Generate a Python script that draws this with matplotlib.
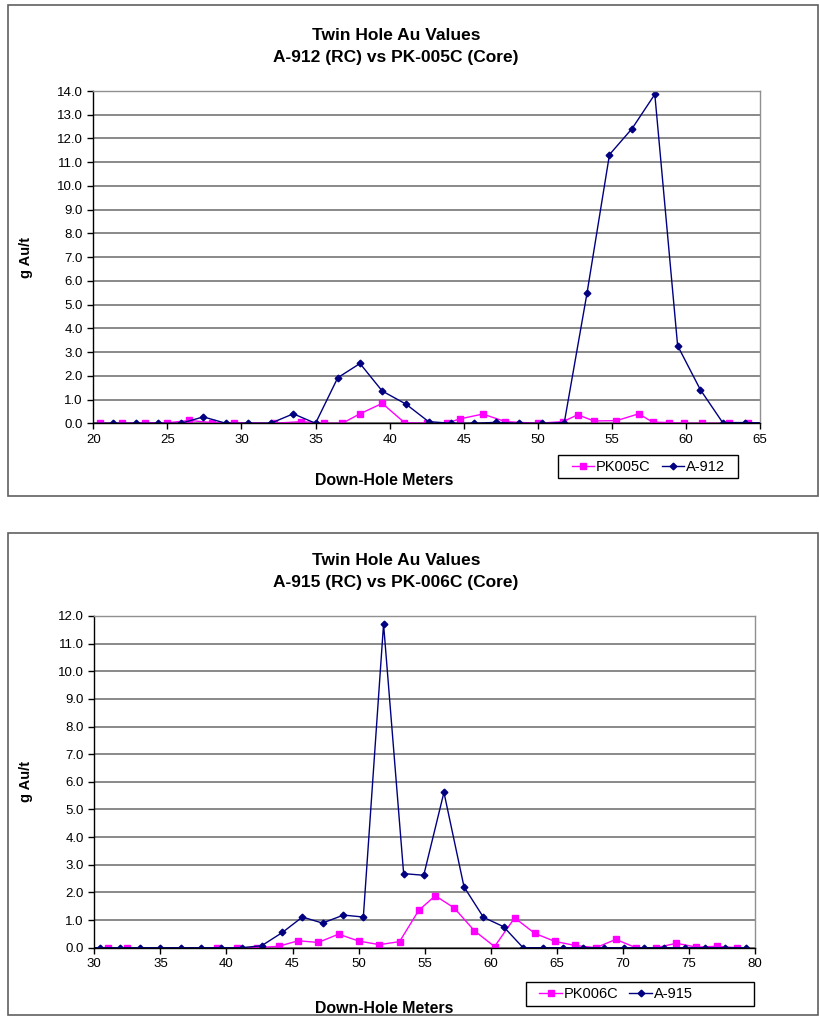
import matplotlib
matplotlib.use("Agg")
import matplotlib.pyplot as plt
from matplotlib.patches import Rectangle

plt.rcParams['font.family'] = ['Liberation Sans', 'DejaVu Sans']

# ---- data (depth in m, grade in g Au/t) ----
# chart 1: A-912 (RC) vs PK-005C (Core)
a912_depth = [19.81, 21.34, 22.87, 24.39, 25.9, 27.43, 28.95, 30.45, 31.97, 33.5, 35.0,
              36.5, 38.0, 39.5, 41.1, 42.63, 44.17, 45.68, 47.19, 48.72, 50.26, 51.79,
              53.32, 54.84, 56.37, 57.9, 59.44, 60.97, 62.48, 64.0, 65.53]
a912_au = [0.0, 0.0, 0.0, 0.0, 0.0, 0.27, 0.0, 0.0, 0.0, 0.4, 0.0,
           1.92, 2.52, 1.36, 0.81, 0.07, 0.0, 0.0, 0.04, 0.0, 0.0, 0.03,
           5.47, 11.32, 12.42, 13.86, 3.27, 1.42, 0.03, 0.03, 0.02]
pk005c_depth = [20.45, 21.97, 23.49, 24.97, 26.49, 28.01, 29.53, 32.17, 34.05, 35.6, 36.8,
                38.0, 39.5, 41.0, 42.55, 43.9, 44.78, 46.29, 47.82, 49.99, 51.7, 52.7,
                53.78, 55.3, 56.82, 57.75, 58.83, 59.89, 61.08, 62.93, 64.2]
pk005c_au = [0.0, 0.0, 0.02, 0.02, 0.12, 0.03, 0.02, 0.0, 0.07, 0.0, 0.0,
             0.4, 0.84, 0.03, 0.0, 0.02, 0.19, 0.39, 0.07, 0.0, 0.07, 0.36,
             0.1, 0.11, 0.4, 0.05, 0.03, 0.0, 0.0, 0.0, 0.0]

# chart 2: A-915 (RC) vs PK-006C (Core)
a915_depth = [28.9, 30.43, 31.95, 33.46, 34.98, 36.55, 38.06, 39.6, 41.14, 42.66, 44.23,
              45.75, 47.27, 48.85, 50.36, 51.89, 53.41, 54.93, 56.46, 57.98, 59.45, 60.97,
              62.45, 63.97, 65.45, 67.0, 68.54, 70.06, 71.6, 73.12, 74.69, 76.2, 77.72, 79.29]
a915_au = [0.0, 0.0, 0.0, 0.0, 0.0, 0.0, 0.0, 0.0, 0.0, 0.07, 0.55,
           1.11, 0.89, 1.18, 1.11, 11.71, 2.68, 2.62, 5.62, 2.2, 1.1, 0.76,
           0.0, 0.0, 0.0, 0.0, 0.0, 0.0, 0.0, 0.0, 0.0, 0.0, 0.0, 0.0]
pk006c_depth = [29.5, 31.0, 32.5, 39.27, 40.79, 42.3, 43.94, 45.43, 46.94, 48.49, 50.01,
                51.58, 53.1, 54.55, 55.8, 57.23, 58.77, 60.29, 61.81, 63.33, 64.84, 66.39,
                67.96, 69.47, 70.99, 72.54, 74.05, 75.57, 77.11, 78.63]
pk006c_au = [0.0, 0.0, 0.0, 0.0, 0.0, 0.0, 0.05, 0.25, 0.19, 0.49, 0.24,
             0.11, 0.22, 1.35, 1.88, 1.44, 0.61, 0.04, 1.08, 0.52, 0.23, 0.08,
             0.0, 0.3, 0.0, 0.0, 0.16, 0.02, 0.05, 0.0]

W, H = 820, 1019
fig = plt.figure(figsize=(W / 100, H / 100), dpi=100)


def fx(x):
    return x / W


def fy(y):
    return 1 - y / H


def box(left, top, right, bottom, color='#606060', lw=1.2):
    fig.patches.append(Rectangle((fx(left), fy(bottom)), (right - left) / W,
                                 (bottom - top) / H, transform=fig.transFigure,
                                 fill=False, edgecolor=color, lw=lw))


def draw_chart(outer, ax_box, core_x, core_y, core_name, rc_x, rc_y, rc_name,
               xlim, ymax, title2, title_y, xlabel_y, leg_box, leg_start):
    box(*outer)
    left, top, right, bottom = ax_box
    ax = fig.add_axes([fx(left), fy(bottom), (right - left) / W, (bottom - top) / H])
    ax.plot(core_x, core_y, color='#FF00FF', lw=1, marker='s', ms=3.8, label=core_name)
    ax.plot(rc_x, rc_y, color='#000080', lw=1, marker='D', ms=3.4, label=rc_name)
    ax.set_xlim(*xlim)
    ax.set_ylim(0, ymax)
    ax.set_xticks(range(xlim[0], xlim[1] + 1, 5))
    ax.set_yticks(range(0, ymax + 1))
    ax.set_yticklabels([f'{v:.1f}' for v in range(0, ymax + 1)])
    ax.grid(axis='y', color='#6a6a6a', lw=1.1)
    ax.set_axisbelow(True)
    ax.tick_params(labelsize=9.5, length=4.5, width=1, pad=3.2, direction='out')
    for s in ['left', 'bottom']:
        ax.spines[s].set_color('black')
        ax.spines[s].set_linewidth(1)
    for s in ['top', 'right']:
        ax.spines[s].set_color('#909090')
        ax.spines[s].set_linewidth(1)

    fig.text(fx(26), fy((top + bottom) / 2), 'g Au/t', rotation=90, ha='center',
             va='center', fontsize=10.5, fontweight='bold')
    fig.text(fx(396), fy(title_y), 'Twin Hole Au Values', ha='center', va='baseline',
             fontsize=12.5, fontweight='bold')
    fig.text(fx(396), fy(title_y + 21.7), title2, ha='center', va='baseline',
             fontsize=12.5, fontweight='bold')
    fig.text(fx(384), fy(xlabel_y), 'Down-Hole Meters', ha='center', va='baseline',
             fontsize=11.4, fontweight='bold')

    # legend: content placed inside a hand-drawn frame (Excel keeps extra room)
    lx0, ly0, lx1, ly1 = leg_box
    ax.legend(loc='center left', bbox_to_anchor=(fx(leg_start), fy((ly0 + ly1) / 2)),
              bbox_transform=fig.transFigure, ncol=2, fontsize=10.5, frameon=False,
              handlelength=1.55, handletextpad=0.12, columnspacing=0.75,
              borderpad=0, borderaxespad=0)
    box(lx0, ly0, lx1, ly1, color='black', lw=1)
    return ax


draw_chart((8, 5, 818, 496), (93.3, 91, 760, 423.3),
           pk005c_depth, pk005c_au, 'PK005C', a912_depth, a912_au, 'A-912',
           (20, 65), 14, 'A-912 (RC) vs PK-005C (Core)', 40, 485,
           (557.7, 455, 737.7, 478.3), 571.7)
draw_chart((8, 533, 818, 1015), (94.3, 616, 755, 947.7),
           pk006c_depth, pk006c_au, 'PK006C', a915_depth, a915_au, 'A-915',
           (30, 80), 12, 'A-915 (RC) vs PK-006C (Core)', 565, 1012.7,
           (525.7, 981.7, 754.3, 1006), 539.3)

fig.savefig('out.png', dpi=100)
